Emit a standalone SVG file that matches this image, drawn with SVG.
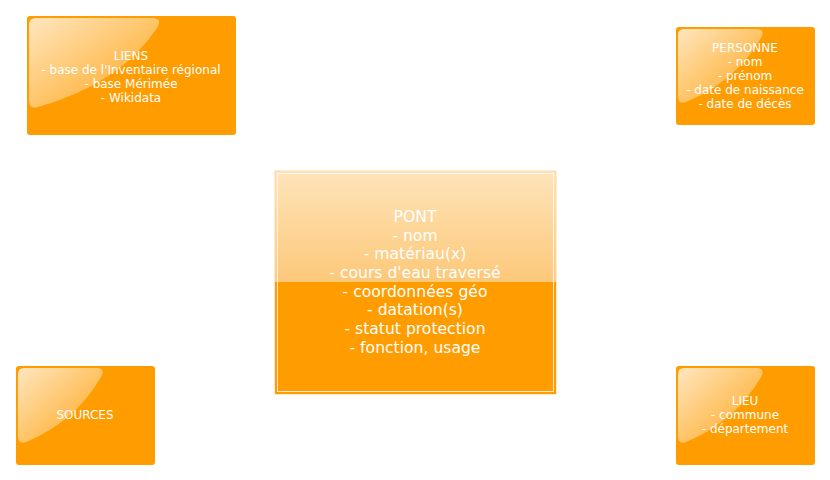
<svg xmlns="http://www.w3.org/2000/svg" width="830" height="480" viewBox="0 0 830 480">
<style>
.box{fill:#FF9C00;}
.t{font-family:"DejaVu Sans",sans-serif;font-size:12px;fill:#fff;text-anchor:middle;}
.tb{font-family:"DejaVu Sans",sans-serif;font-size:15.6px;fill:#fff;text-anchor:middle;}
.gl{fill:url(#gloss);}
</style>
<defs>
<linearGradient id="gloss" x1="0" y1="0" x2="1" y2="1">
<stop offset="0" stop-color="#fff" stop-opacity="0.75"/>
<stop offset="1" stop-color="#fff" stop-opacity="0.08"/>
</linearGradient>
<linearGradient id="pontg" x1="0" y1="0" x2="0" y2="1">
<stop offset="0" stop-color="#FEE4BA"/>
<stop offset="1" stop-color="#FBAC38"/>
</linearGradient>
</defs>
<g id="liens">
<rect class="box" x="27" y="16" width="209" height="119" rx="3"/>
<path class="gl" d="M29,25 Q29,18 36,18 L152,18 Q163,18 157,28 Q120,84 38,107 Q29,110 29,100 Z"/>
<text class="t" x="131" y="59.5">LIENS</text>
<text class="t" x="131" y="73.5">- base de l'Inventaire régional</text>
<text class="t" x="131" y="87.5">- base Mérimée</text>
<text class="t" x="131" y="101.5">- Wikidata</text>
</g>
<g id="personne">
<rect class="box" x="676" y="27" width="139" height="98" rx="3"/>
<path class="gl" d="M678,35 Q678,29 684,29 L756,29 Q766,29 761,38 Q735,82 686,102 Q678,105 678,96 Z"/>
<text class="t" x="745" y="51.5">PERSONNE</text>
<text class="t" x="745" y="65.5">- nom</text>
<text class="t" x="745" y="79.5">- prénom</text>
<text class="t" x="745" y="93.5">- date de naissance</text>
<text class="t" x="745" y="107.5">- date de décès</text>
</g>
<g id="pont">
<rect x="275" y="171" width="281" height="223" fill="url(#pontg)" stroke="#FDD9A0" stroke-width="1"/>
<rect class="box" x="275" y="282" width="281" height="112"/>
<rect x="277.5" y="173.5" width="276" height="218" fill="none" stroke="#fff" stroke-width="1" stroke-opacity="0.8"/>
<text class="tb" x="415" y="221.5">PONT</text>
<text class="tb" x="415" y="240.5">- nom</text>
<text class="tb" x="415" y="259">- matériau(x)</text>
<text class="tb" x="415" y="277.5">- cours d'eau traversé</text>
<text class="tb" x="415" y="296.5">- coordonnées géo</text>
<text class="tb" x="415" y="315">- datation(s)</text>
<text class="tb" x="415" y="333.5">- statut protection</text>
<text class="tb" x="415" y="352.5">- fonction, usage</text>
</g>
<g id="sources">
<rect class="box" x="16" y="366" width="139" height="99" rx="3"/>
<path class="gl" d="M18,374 Q18,368 24,368 L96,368 Q106,368 101,377 Q75,422 26,442 Q18,445 18,436 Z"/>
<text class="t" x="85" y="418.5">SOURCES</text>
</g>
<g id="lieu">
<rect class="box" x="676" y="366" width="139" height="99" rx="3"/>
<path class="gl" d="M678,374 Q678,368 684,368 L756,368 Q766,368 761,377 Q735,422 686,442 Q678,445 678,436 Z"/>
<text class="t" x="745" y="404.5">LIEU</text>
<text class="t" x="745" y="418.5">- commune</text>
<text class="t" x="745" y="432.5">- département</text>
</g>
<g id="connectors"></g>
</svg>
